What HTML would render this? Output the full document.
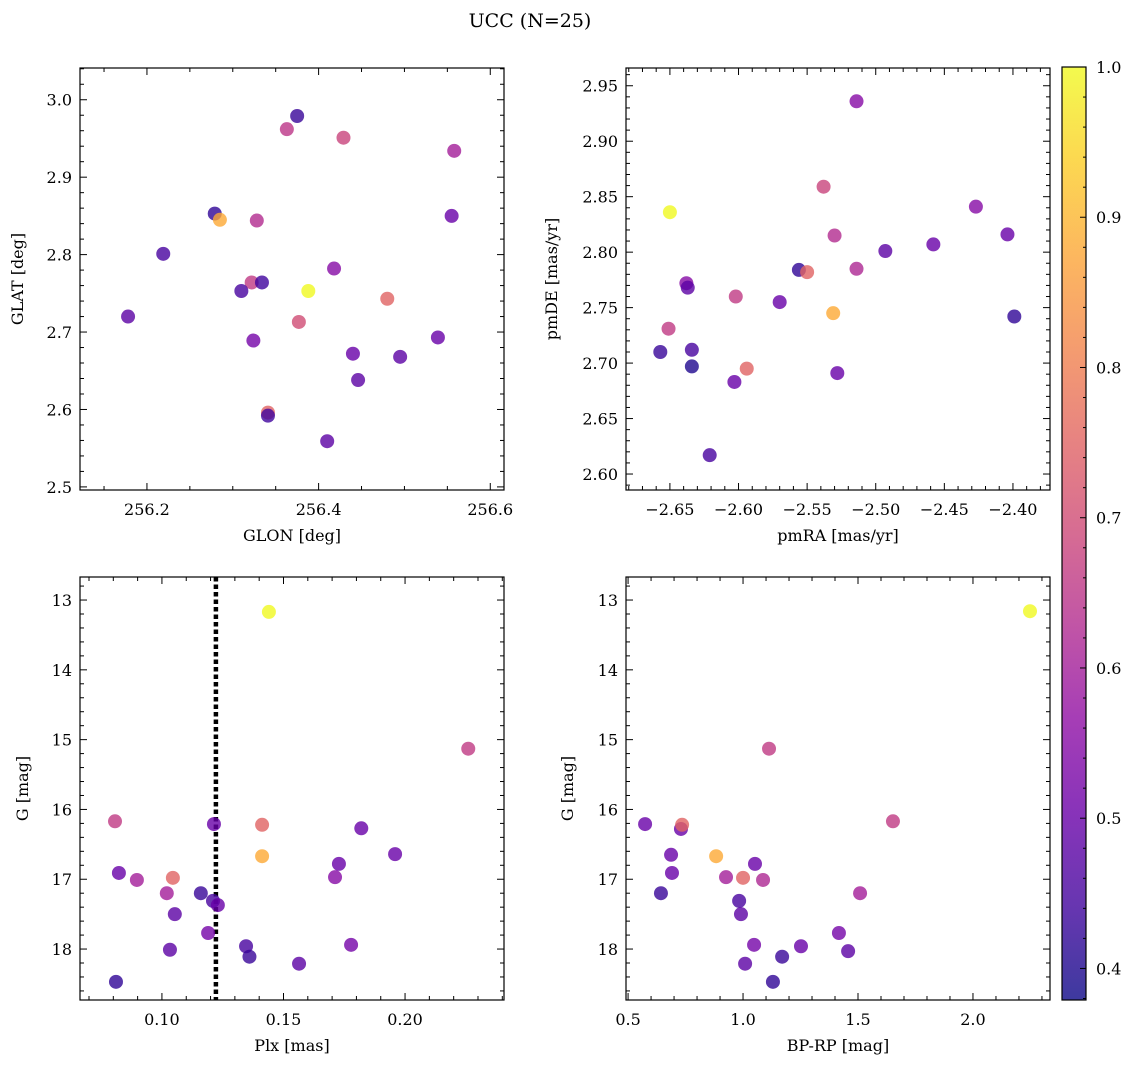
<!DOCTYPE html>
<html><head><meta charset="utf-8"><style>
html,body{margin:0;padding:0;background:#fff;}
svg{display:block;font-family:"DejaVu Serif","Liberation Serif",serif;}
</style></head><body>
<svg id="fig" width="1136" height="1067" viewBox="0 0 1136 1067" xmlns="http://www.w3.org/2000/svg">
<defs><linearGradient id="plasma" x1="0" y1="1" x2="0" y2="0">
<stop offset="0" stop-color="#0d0887"/><stop offset="0.1" stop-color="#41049d"/><stop offset="0.2" stop-color="#6a00a8"/><stop offset="0.3" stop-color="#8f0da4"/><stop offset="0.4" stop-color="#b12a90"/><stop offset="0.5" stop-color="#cc4778"/><stop offset="0.6" stop-color="#e16462"/><stop offset="0.7" stop-color="#f2844b"/><stop offset="0.8" stop-color="#fca636"/><stop offset="0.9" stop-color="#fcce25"/><stop offset="1" stop-color="#f0f921"/></linearGradient></defs>
<text x="530" y="27" text-anchor="middle" font-size="19">UCC (N=25)</text>
</svg>
<script>
// Panel 1: GLON vs GLAT
const p1x=[256.375,256.363,256.429,256.558,256.279,256.285,256.328,256.555,256.219,256.418,256.322,256.334,256.310,256.388,256.480,256.178,256.377,256.324,256.539,256.440,256.495,256.446,256.341,256.341,256.410];
const p1y=[2.979,2.962,2.951,2.934,2.853,2.845,2.844,2.850,2.801,2.782,2.764,2.764,2.753,2.753,2.743,2.720,2.713,2.689,2.693,2.672,2.668,2.638,2.596,2.592,2.559];
const p1c=[0.43,0.65,0.68,0.6,0.42,0.88,0.63,0.5,0.45,0.55,0.66,0.44,0.45,1.0,0.75,0.48,0.7,0.52,0.5,0.5,0.48,0.48,0.75,0.44,0.48];
// Panel 2: pmRA vs pmDE
const p2x=[-2.514,-2.650,-2.538,-2.427,-2.530,-2.404,-2.458,-2.493,-2.556,-2.550,-2.514,-2.638,-2.637,-2.602,-2.570,-2.531,-2.399,-2.651,-2.657,-2.634,-2.634,-2.594,-2.603,-2.528,-2.621];
const p2y=[2.936,2.836,2.859,2.841,2.815,2.816,2.807,2.801,2.784,2.782,2.785,2.772,2.768,2.760,2.755,2.745,2.742,2.731,2.710,2.712,2.697,2.695,2.683,2.691,2.617];
const p2c=[0.55,1.0,0.68,0.55,0.63,0.5,0.5,0.48,0.42,0.75,0.62,0.55,0.48,0.66,0.5,0.88,0.42,0.66,0.43,0.45,0.4,0.75,0.5,0.5,0.45];
// Panel 3: Plx vs G
const p3x=[0.144,0.226,0.0807,0.1214,0.1412,0.182,0.1412,0.1959,0.1728,0.0823,0.0897,0.1045,0.1712,0.102,0.116,0.121,0.123,0.1053,0.119,0.1346,0.1778,0.1033,0.136,0.1564,0.0811];
const p3y=[13.17,15.13,16.17,16.21,16.22,16.27,16.67,16.64,16.78,16.91,17.01,16.98,16.97,17.20,17.20,17.31,17.37,17.50,17.77,17.96,17.94,18.01,18.11,18.21,18.47];
const p3c=[1.0,0.66,0.66,0.5,0.75,0.5,0.88,0.5,0.5,0.5,0.6,0.75,0.55,0.6,0.43,0.45,0.5,0.48,0.52,0.45,0.52,0.48,0.43,0.48,0.42];
const plxLine=0.1222;
// Panel 4: BP-RP vs G
const p4x=[2.248,1.113,1.652,0.574,0.730,0.735,0.883,0.687,1.052,0.691,0.926,1.0,1.087,0.643,1.509,0.983,0.991,1.417,1.252,1.048,1.457,1.009,1.17,1.13];
const p4y=[13.16,15.13,16.17,16.21,16.28,16.22,16.67,16.65,16.78,16.91,16.97,16.98,17.01,17.20,17.20,17.31,17.50,17.77,17.96,17.94,18.03,18.21,18.11,18.47];
const p4c=[1.0,0.66,0.66,0.5,0.5,0.75,0.88,0.5,0.5,0.5,0.6,0.75,0.62,0.43,0.6,0.45,0.48,0.52,0.5,0.52,0.48,0.48,0.43,0.42];
const cbTicks=[0.4,0.5,0.6,0.7,0.8,0.9,1.0];

const NS="http://www.w3.org/2000/svg";
const svg=document.getElementById('fig');
function el(t,a,p){const e=document.createElementNS(NS,t);for(const k in a)e.setAttribute(k,a[k]);(p||svg).appendChild(e);return e;}
const stops=[[0,[13,8,135]],[0.1,[65,4,157]],[0.2,[106,0,168]],[0.3,[143,13,164]],[0.4,[177,42,144]],[0.5,[204,71,120]],[0.6,[225,100,98]],[0.7,[242,132,75]],[0.8,[252,166,54]],[0.9,[252,206,37]],[1,[240,249,33]]];
const cmin=0.379,cmax=1.0;
function cmap(v){let t=(v-cmin)/(cmax-cmin);t=Math.max(0,Math.min(1,t));for(let i=0;i<stops.length-1;i++){const a=stops[i],b=stops[i+1];if(t<=b[0]){const f=(t-a[0])/(b[0]-a[0]);const c=a[1].map((x,j)=>Math.round(x+(b[1][j]-x)*f));return `rgb(${c})`;}}return 'rgb(240,249,33)';}
function fmt(v,d){let s=v.toFixed(d);return s.replace('-','\u2212');}

function panel(o){
  const g=el('g',{});
  
  
  const sx=v=>o.x0+(v-o.xmin)/(o.xmax-o.xmin)*(o.x1-o.x0);
  const sy=o.inv?(v=>o.y0+(v-o.ymin)/(o.ymax-o.ymin)*(o.y1-o.y0)):(v=>o.y1-(v-o.ymin)/(o.ymax-o.ymin)*(o.y1-o.y0));
  function ticks(min,max,step,minor,isX){
    const lo=Math.ceil(min/minor-1e-6),hi=Math.floor(max/minor+1e-6);
    for(let i=lo;i<=hi;i++){const v=i*minor;const maj=Math.abs(v/step-Math.round(v/step))<1e-6;const L=maj?7:4;
      if(isX){const x=sx(v);el('line',{x1:x,x2:x,y1:o.y1,y2:o.y1-L,stroke:'#000','stroke-width':1},g);el('line',{x1:x,x2:x,y1:o.y0,y2:o.y0+L,stroke:'#000','stroke-width':1},g);
        if(maj){const t=el('text',{x:x,y:o.y1+25,'text-anchor':'middle','font-size':16},g);t.textContent=fmt(v,o.xd);}}
      else{const y=sy(v);el('line',{x1:o.x0,x2:o.x0+L,y1:y,y2:y,stroke:'#000','stroke-width':1},g);el('line',{x1:o.x1,x2:o.x1-L,y1:y,y2:y,stroke:'#000','stroke-width':1},g);
        if(maj){const t=el('text',{x:o.x0-8,y:y+6,'text-anchor':'end','font-size':16},g);t.textContent=fmt(v,o.yd);}}
    }
  }
  if(o.vline!==undefined){const x=sx(o.vline);const l=el('line',{x1:x,x2:x,y1:o.y0,y2:o.y1,stroke:'#000','stroke-width':4.5,'stroke-dasharray':'4.5,3'},g);}
  for(let i=0;i<o.xs.length;i++){const c=el('circle',{cx:sx(o.xs[i]),cy:sy(o.ys[i]),r:7,fill:cmap(o.cs[i]),'fill-opacity':0.8,stroke:'none'},g);
    
    }
  el('rect',{x:o.x0,y:o.y0,width:o.x1-o.x0,height:o.y1-o.y0,fill:'none',stroke:'#000','stroke-width':1.2},g);
  ticks(o.xmin,o.xmax,o.xstep,o.xminor,true);
  ticks(o.ymin,o.ymax,o.ystep,o.yminor,false);
  const xl=el('text',{x:(o.x0+o.x1)/2,y:o.y1+51,'text-anchor':'middle','font-size':16},g);xl.textContent=o.xlab;
  
  const cy=(o.y0+o.y1)/2;const yl=el('text',{x:o.ylx,y:cy,'text-anchor':'middle','font-size':16,transform:`rotate(-90 ${o.ylx} ${cy})`},g);yl.textContent=o.ylab;
  
}
panel({name:'glon-glat-panel',x0:80,x1:504,y0:68,y1:490,xmin:256.122,xmax:256.616,ymin:2.496,ymax:3.041,xstep:0.2,xminor:0.05,ystep:0.1,yminor:0.02,xd:1,yd:1,xs:p1x,ys:p1y,cs:p1c,xlab:'GLON [deg]',ylab:'GLAT [deg]',ylx:23});
panel({name:'pm-panel',x0:626,x1:1050,y0:68,y1:490,xmin:-2.682,xmax:-2.373,ymin:2.5856,ymax:2.966,xstep:0.05,xminor:0.01,ystep:0.05,yminor:0.01,xd:2,yd:2,xs:p2x,ys:p2y,cs:p2c,xlab:'pmRA [mas/yr]',ylab:'pmDE [mas/yr]',ylx:557});
panel({name:'plx-g-panel',x0:80,x1:504,y0:577,y1:1000,inv:true,xmin:0.0663,xmax:0.2407,ymin:12.67,ymax:18.73,xstep:0.05,xminor:0.01,ystep:1,yminor:0.2,xd:2,yd:0,xs:p3x,ys:p3y,cs:p3c,xlab:'Plx [mas]',ylab:'G [mag]',ylx:28,vline:plxLine});
panel({name:'cmd-panel',x0:626,x1:1050,y0:577,y1:1000,inv:true,xmin:0.491,xmax:2.335,ymin:12.67,ymax:18.73,xstep:0.5,xminor:0.1,ystep:1,yminor:0.2,xd:1,yd:0,xs:p4x,ys:p4y,cs:p4c,xlab:'BP-RP [mag]',ylab:'G [mag]',ylx:573});
const cb=el('g',{});


const cbx0=1062,cbx1=1086,cby0=67,cby1=1000;
el('rect',{x:cbx0,y:cby0,width:cbx1-cbx0,height:cby1-cby0,fill:'url(#plasma)','fill-opacity':0.8,stroke:'none'},cb);
el('rect',{x:cbx0,y:cby0,width:cbx1-cbx0,height:cby1-cby0,fill:'none',stroke:'#000','stroke-width':1.2},cb);
const cy=v=>cby1-(v-cmin)/(cmax-cmin)*(cby1-cby0);
for(let i=38;i<=100;i+=2){const v=i/100;if(v<cmin)continue;const y=cy(v);const maj=i%10===0;el('line',{x1:cbx1,x2:cbx1-(maj?6:3),y1:y,y2:y,stroke:'#000','stroke-width':1},cb);}
cbTicks.forEach(v=>{const t=el('text',{x:cbx1+10,y:cy(v)+6,'font-size':16},cb);t.textContent=v.toFixed(1);
  });
</script>
</body></html>
